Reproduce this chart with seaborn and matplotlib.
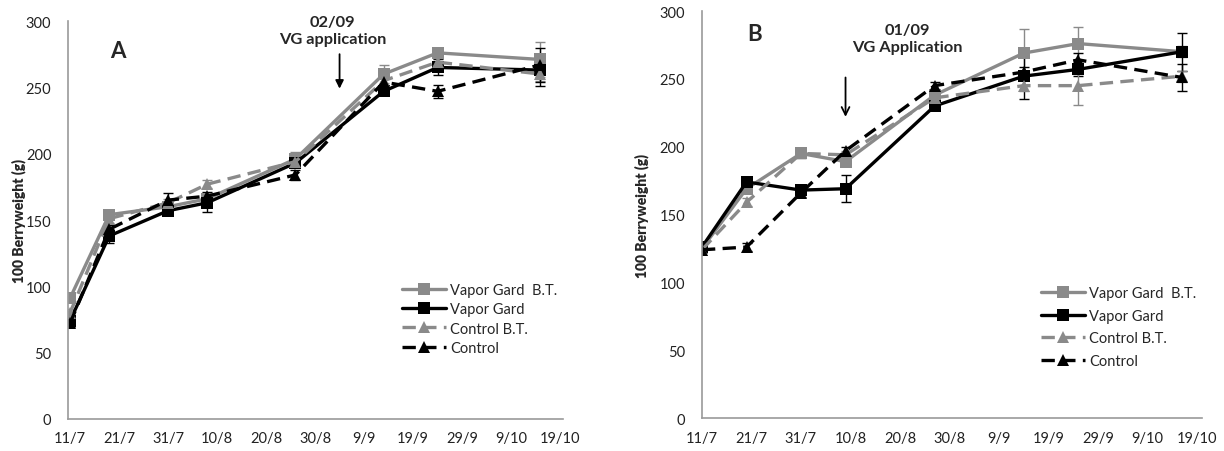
import numpy as np
import pandas as pd
import matplotlib
matplotlib.use("Agg")
import matplotlib.pyplot as plt
import matplotlib.dates as mdates
import seaborn as sns

# ---------------- data ----------------
series_names = ["Vapor Gard  B.T.", "Vapor Gard", "Control B.T.", "Control"]

dates_A = ["2012-07-11", "2012-07-19", "2012-07-31", "2012-08-08",
           "2012-08-26", "2012-09-13", "2012-09-24", "2012-10-15"]
vgbt_A = [91, 154, 160, 166, 196, 260, 276, 271]
vg_A   = [74, 138, 157, 163, 193, 247, 265, 263]
cbt_A  = [80, 151, 163, 177, 194, 255, 269, 260]
c_A    = [72, 143, 165, 168, 184, 254, 247, 267]
err_vgbt_A = [3, 3, 3, 3, 5, 7, 4, 13]
err_vg_A   = [3, 5, 3, 7, 3, 3, 6, 12]
err_cbt_A  = [3, 3, 3, 3, 3, 3, 3, 5]
err_c_A    = [3, 3, 5, 3, 4, 3, 5, 13]

dates_B = ["2012-07-11", "2012-07-20", "2012-07-31", "2012-08-09",
           "2012-08-27", "2012-09-14", "2012-09-25", "2012-10-16"]
vgbt_B = [125, 169, 195, 189, 238, 269, 276, 270]
vg_B   = [126, 174, 168, 169, 230, 252, 257, 270]
cbt_B  = [124, 159, 195, 194, 236, 245, 245, 252]
c_B    = [124, 126, 166, 197, 245, 255, 264, 251]
err_vgbt_B = [2, 3, 3, 3, 3, 18, 12, 4]
err_vg_B   = [2, 3, 3, 10, 3, 17, 5, 14]
err_cbt_B  = [2, 3, 3, 3, 3, 4, 14, 4]
err_c_B    = [2, 3, 3, 3, 3, 4, 5, 10]

tick_dates = ["2012-07-11", "2012-07-21", "2012-07-31", "2012-08-10", "2012-08-20",
              "2012-08-30", "2012-09-09", "2012-09-19", "2012-09-29", "2012-10-09",
              "2012-10-19"]
tick_labels = ["11/7", "21/7", "31/7", "10/8", "20/8", "30/8", "9/9", "19/9",
               "29/9", "9/10", "19/10"]
y_ticks = [0, 50, 100, 150, 200, 250, 300]

# ---------------- style ----------------
sns.set_theme(style="white")
plt.rcParams['font.family'] = ['Lato', 'DejaVu Sans']

GRAY = "#8a8a8a"
palette = {series_names[0]: GRAY, series_names[1]: "#000000",
           series_names[2]: GRAY, series_names[3]: "#000000"}
markers = {series_names[0]: "s", series_names[1]: "s",
           series_names[2]: "^", series_names[3]: "^"}
dashes = {series_names[0]: "", series_names[1]: "",
          series_names[2]: (4, 2.2), series_names[3]: (4, 2.2)}


def build_df(dates, vals):
    rows = []
    for name, v in zip(series_names, vals):
        for d, y in zip(dates, v):
            rows.append({"date": pd.Timestamp(d), "value": y, "series": name})
    return pd.DataFrame(rows)


fig = plt.figure(figsize=(12.24, 4.52), dpi=100)
axA = fig.add_axes([0.0556, 0.0708, 0.4044, 0.8805])
axB = fig.add_axes([0.5735, 0.0730, 0.4085, 0.9004])

panels = [
    dict(ax=axA, dates=dates_A, vals=[vgbt_A, vg_A, cbt_A, c_A],
         errs=[err_vgbt_A, err_vg_A, err_cbt_A, err_c_A], letter="A",
         ann=["02/09", "VG application"], pad=(-0.4, 0.6),
         letter_pos=(0.085, 0.925), text_pos=(0.535, 1.015),
         leg_anchor=(1.0, 0.147), leg_space=0.35, ylpad=0),
    dict(ax=axB, dates=dates_B, vals=[vgbt_B, vg_B, cbt_B, c_B],
         errs=[err_vgbt_B, err_vg_B, err_cbt_B, err_c_B], letter="B",
         ann=["01/09", "VG Application"], pad=(0.0, 1.0),
         letter_pos=(0.09, 0.945), text_pos=(0.41, 0.97),
         leg_anchor=(1.0, 0.108), leg_space=0.6, ylpad=8),
]

for p in panels:
    ax = p["ax"]
    df = build_df(p["dates"], p["vals"])
    sns.lineplot(data=df, x="date", y="value", hue="series", style="series",
                 hue_order=series_names, style_order=series_names,
                 palette=palette, markers=markers, dashes=dashes,
                 linewidth=2.4, markersize=8, markeredgewidth=0,
                 ax=ax, legend=True)
    xd = pd.to_datetime(p["dates"])
    for name, v, e in zip(series_names, p["vals"], p["errs"]):
        ax.errorbar(xd, v, yerr=e, fmt="none", ecolor=palette[name],
                    elinewidth=1.0, capsize=3.5, capthick=1.0, zorder=1)

    t0 = pd.Timestamp(tick_dates[0]) + pd.Timedelta(days=p["pad"][0])
    t1 = pd.Timestamp(tick_dates[-1]) + pd.Timedelta(days=p["pad"][1])
    ax.set_xlim(t0, t1)
    ax.set_ylim(0, 300)
    ax.set_xticks(pd.to_datetime(tick_dates))
    ax.set_xticklabels(tick_labels, fontsize=10.5, color="#222222")
    ax.set_yticks(y_ticks)
    ax.set_yticklabels([str(t) for t in y_ticks], fontsize=10.5, color="#222222")
    ax.tick_params(axis="x", length=0, pad=9)
    ax.tick_params(axis="y", length=0, pad=12)
    ax.set_xlabel("")
    ax.set_ylabel("100 Berryweight (g)", fontsize=10, fontweight="heavy",
                  labelpad=p["ylpad"])
    for s in ["top", "right"]:
        ax.spines[s].set_visible(False)
    for s in ["left", "bottom"]:
        ax.spines[s].set_color("#9a9a9a")
        ax.spines[s].set_linewidth(1.2)

    ax.text(p["letter_pos"][0], p["letter_pos"][1], p["letter"], transform=ax.transAxes,
            fontsize=16, fontweight="bold", ha="left", va="center")
    ax.text(p["text_pos"][0], p["text_pos"][1], p["ann"][0] + "\n" + p["ann"][1],
            transform=ax.transAxes, fontsize=11.8, fontweight="bold",
            ha="center", va="top", linespacing=1.25)

    leg = ax.legend(loc="lower right", bbox_to_anchor=p["leg_anchor"],
                    frameon=False, fontsize=10.5, handlelength=3.0,
                    handletextpad=0.3, labelspacing=p["leg_space"],
                    borderaxespad=0.0)
    for h in leg.legend_handles:
        h.set_markersize(8)

# arrows
xa = mdates.date2num(pd.Timestamp("2012-09-04"))
axA.annotate("", xy=(xa, 249), xytext=(xa, 275),
             arrowprops=dict(arrowstyle="-|>", color="black", lw=1.3,
                             mutation_scale=12, shrinkA=0, shrinkB=0))
xb = mdates.date2num(pd.Timestamp("2012-08-09"))
axB.annotate("", xy=(xb, 222), xytext=(xb, 251),
             arrowprops=dict(arrowstyle="->", color="black", lw=1.3,
                             mutation_scale=14, shrinkA=0, shrinkB=0))

fig.savefig("out.png", dpi=100)
